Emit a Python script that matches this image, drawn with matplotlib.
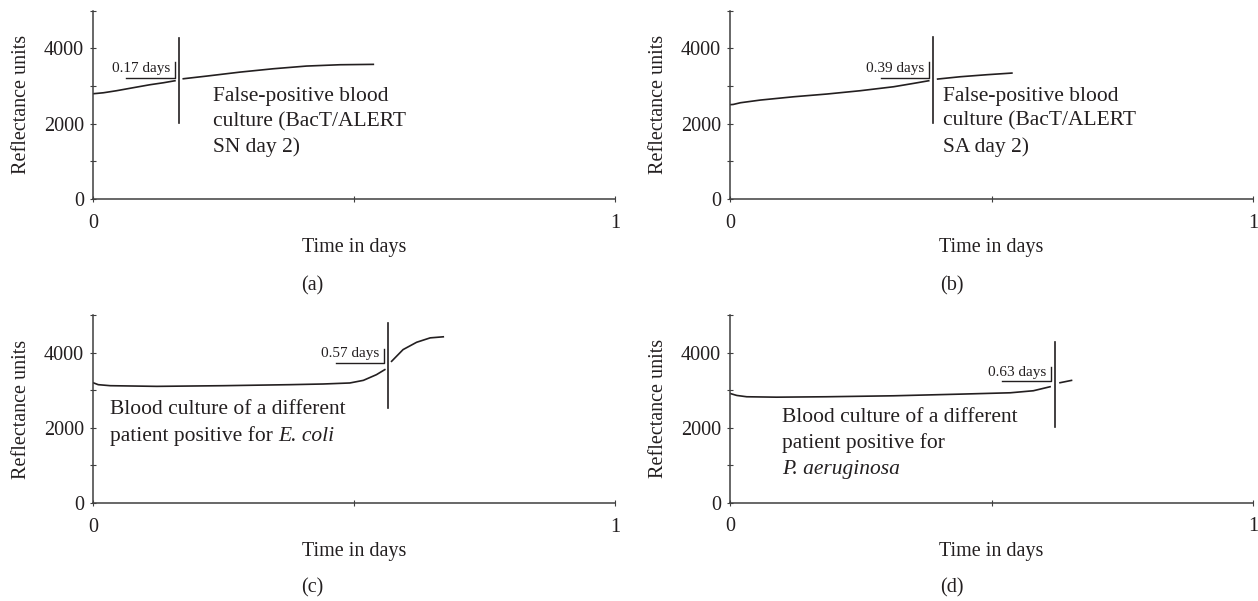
import matplotlib
matplotlib.use("Agg")
import matplotlib.pyplot as plt

plt.rcParams['font.family'] = ['Liberation Serif', 'DejaVu Serif']

INK = '#231f20'
SPINE = '#3f3f3f'

# ---- data (time in days, reflectance units) ----
# (a) false positive, BacT/ALERT SN
a_t1 = [0.0, 0.008, 0.020, 0.045, 0.077, 0.109, 0.135, 0.157]
a_y1 = [2795, 2805, 2821, 2875, 2955, 3034, 3087, 3140]
a_t2 = [0.173, 0.218, 0.282, 0.345, 0.409, 0.473, 0.537]
a_y2 = [3193, 3264, 3370, 3458, 3530, 3565, 3575]
a_det = 0.165
a_label = '0.17 days'

# (b) false positive, BacT/ALERT SA
b_t1 = [0.0, 0.006, 0.020, 0.058, 0.122, 0.185, 0.249, 0.313, 0.351, 0.380]
b_y1 = [2505, 2510, 2556, 2627, 2715, 2787, 2875, 2981, 3070, 3140]
b_t2 = [0.397, 0.440, 0.491, 0.539]
b_y2 = [3185, 3246, 3300, 3344]
b_det = 0.389
b_label = '0.39 days'

# (c) E. coli
c_t1 = [0.0, 0.010, 0.033, 0.122, 0.250, 0.377, 0.441, 0.492, 0.518, 0.543, 0.559]
c_y1 = [3200, 3147, 3120, 3102, 3120, 3147, 3165, 3192, 3262, 3413, 3547]
c_t2 = [0.572, 0.594, 0.620, 0.646, 0.671]
c_y2 = [3768, 4080, 4275, 4392, 4420]
c_det = 0.566
c_label = '0.57 days'

# (d) P. aeruginosa
d_t1 = [0.0, 0.013, 0.032, 0.089, 0.184, 0.313, 0.440, 0.536, 0.580, 0.612]
d_y1 = [2910, 2857, 2822, 2811, 2822, 2848, 2892, 2928, 2982, 3089]
d_t2 = [0.631, 0.653]
d_y2 = [3196, 3258]
d_det = 0.621
d_label = '0.63 days'

x_ticks = [0, 0.5, 1]
x_ticklabels = ['0', '', '1']
y_ticks = [0, 1000, 2000, 3000, 4000, 5000]
y_ticklabels = ['0', '', '2000', '', '4000', '']

fig = plt.figure(figsize=(12.58, 6.01), dpi=100)
W, H = 1258.0, 601.0


def make_axes(x0, x1, ybot, ytop):
    return fig.add_axes([x0 / W, 1 - ybot / H, (x1 - x0) / W, (ybot - ytop) / H])


def style(ax):
    ax.set_xlim(0, 1)
    ax.set_ylim(0, 5000)
    for s in ['top', 'right']:
        ax.spines[s].set_visible(False)
    for s in ['left', 'bottom']:
        ax.spines[s].set_color(SPINE)
        ax.spines[s].set_linewidth(1.1)
    ax.set_xticks(x_ticks)
    ax.set_xticklabels(x_ticklabels)
    ax.set_yticks(y_ticks)
    ax.set_yticklabels(y_ticklabels)
    ax.tick_params(direction='inout', length=5, width=0.8, color=SPINE,
                   labelsize=14.5, labelcolor=INK)
    ax.tick_params(axis='x', pad=8)
    ax.tick_params(axis='y', pad=4)
    ax.set_xlabel('Time in days', fontsize=14.5, color=INK, labelpad=4)
    ax.set_ylabel('Reflectance units', fontsize=14.5, color=INK, labelpad=9)


def draw(ax, t1, y1, t2, y2, det, det_lo, det_hi, label, br_y, br_h):
    ax.plot(t1, y1, color=INK, lw=1.2)
    ax.plot(t2, y2, color=INK, lw=1.2)
    ax.plot([det, det], [det_lo, det_hi], color=INK, lw=1.2)
    # bracket with time label
    xe = det - 0.008
    ax.plot([xe - 0.093, xe, xe], [br_y, br_y, br_y + br_h], color=INK, lw=1.0)
    ax.text(xe - 0.009, br_y + 70, label, ha='right', va='bottom',
            fontsize=11, color=INK)


ax_a = make_axes(93, 615, 199, 10.7)
ax_b = make_axes(730, 1253, 199, 10.7)
ax_c = make_axes(93, 615, 503, 315)
ax_d = make_axes(730, 1253, 502.7, 315)

for ax in (ax_a, ax_b, ax_c, ax_d):
    style(ax)

draw(ax_a, a_t1, a_y1, a_t2, a_y2, a_det, 2010, 4280, a_label, 3225, 410)
draw(ax_b, b_t1, b_y1, b_t2, b_y2, b_det, 2025, 4290, b_label, 3225, 410)
draw(ax_c, c_t1, c_y1, c_t2, c_y2, c_det, 2525, 4790, c_label, 3725, 380)
draw(ax_d, d_t1, d_y1, d_t2, d_y2, d_det, 2020, 4290, d_label, 3235, 380)

FS = 15.5
txt = dict(ha='left', va='center', fontsize=FS, color=INK, linespacing=1.4)
ax_a.text(0.23, 2044, 'False-positive blood\nculture (BacT/ALERT\nSN day 2)', **txt)
ax_b.text(0.407, 2051, 'False-positive blood\nculture (BacT/ALERT\nSA day 2)', **txt)

# (c) text, with the organism name in italics after the last line
ax_c.text(0.033, 2480, 'Blood culture of a different', **txt)
c_line2 = ax_c.text(0.033, 1768, 'patient positive for', **txt)
ax_c.annotate('E. coli', xy=(1, 0), xycoords=c_line2, xytext=(3.9, 0),
              textcoords='offset points', ha='left', va='bottom',
              fontsize=FS, color=INK, fontstyle='italic')

# (d) text, organism name on its own italic line
ax_d.text(0.099, 2268, 'Blood culture of a different', **txt)
ax_d.text(0.099, 1598, 'patient positive for', **txt)
ax_d.text(0.099, 876, 'P. aeruginosa', fontstyle='italic', **txt)

for lab, x, y in [('(a)', 312, 286), ('(b)', 952, 286),
                  ('(c)', 312, 588), ('(d)', 952, 588)]:
    fig.text(x / W, 1 - y / H, lab, ha='center', va='center',
             fontsize=14.5, color=INK)

fig.savefig('out.png', dpi=100)
